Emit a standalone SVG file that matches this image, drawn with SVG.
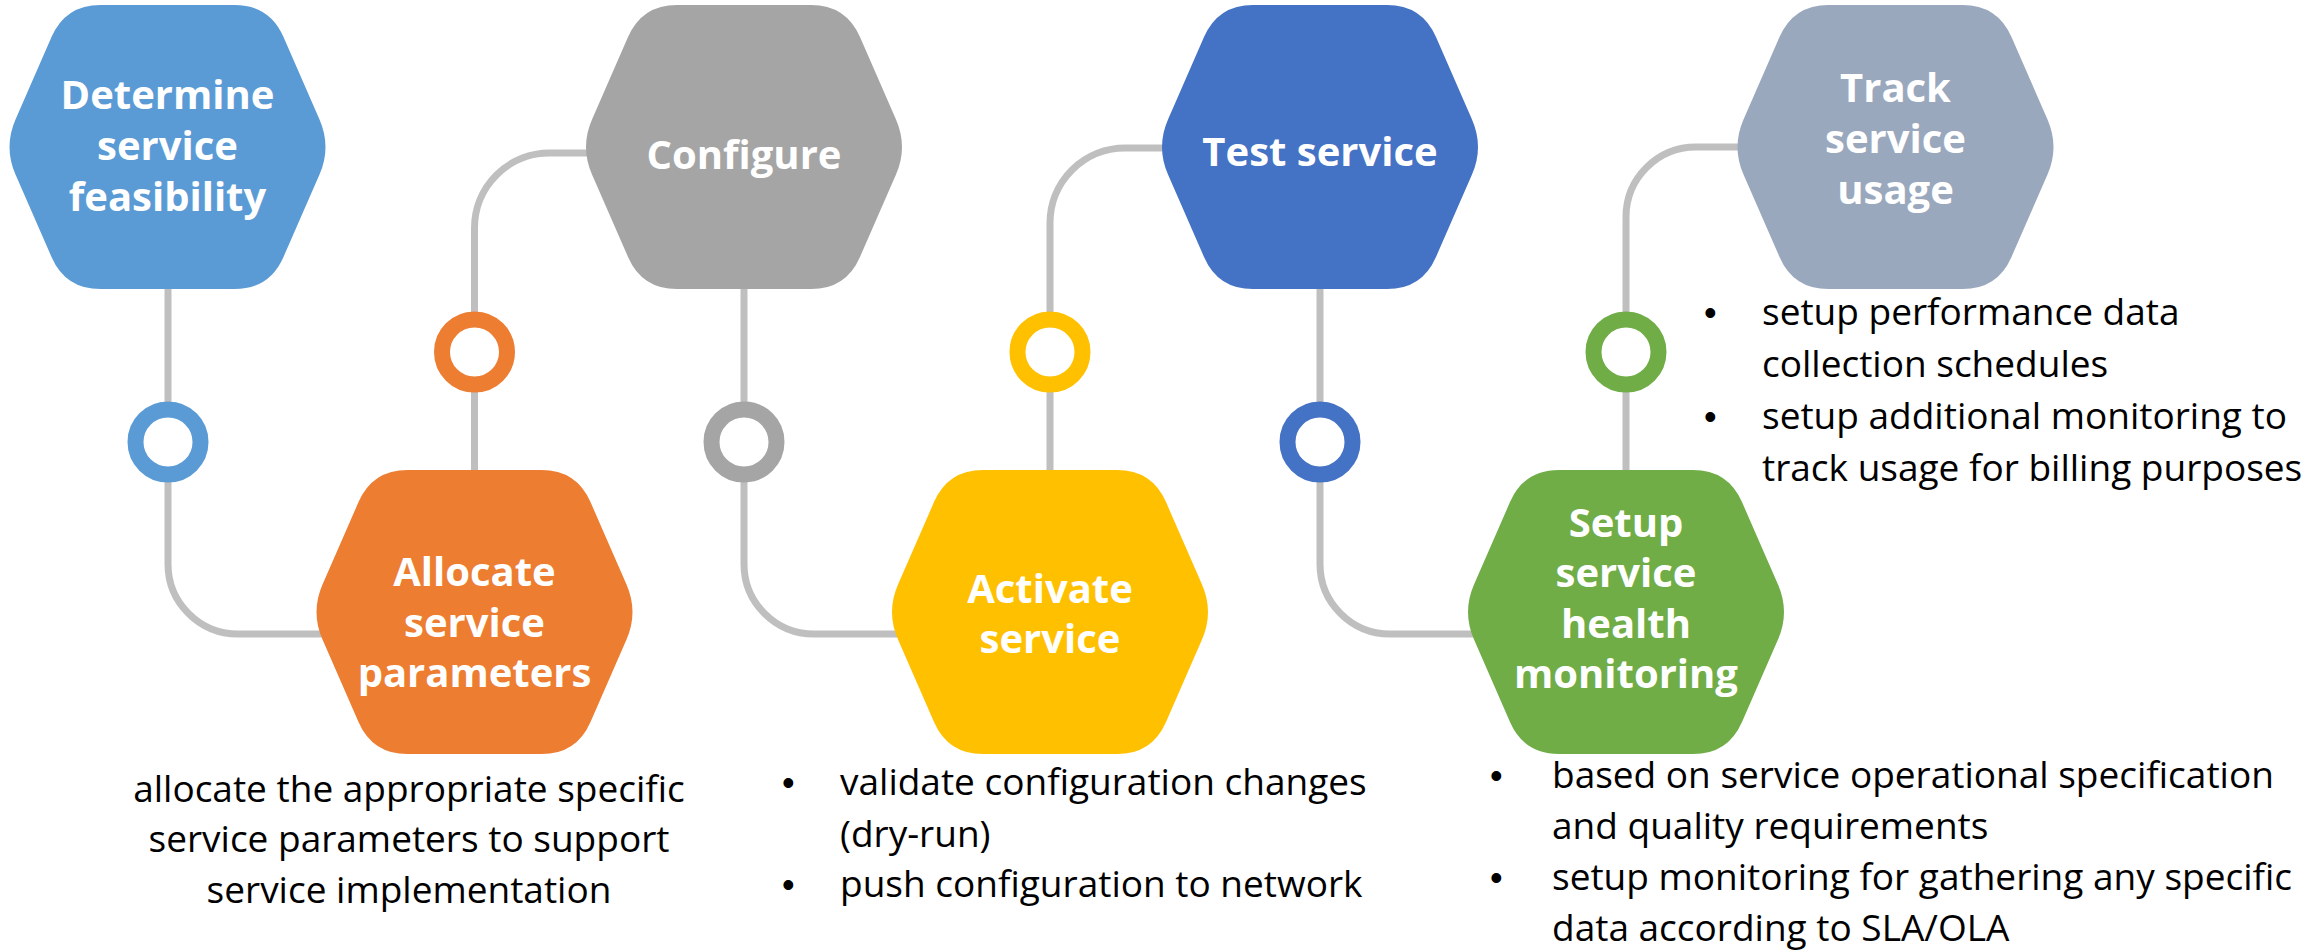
<svg xmlns="http://www.w3.org/2000/svg" xmlns:xlink="http://www.w3.org/1999/xlink" width="2304" height="952" viewBox="0 0 2304 952">
<style>
.conn{fill:none;stroke:#BFBFBF;stroke-width:7}
.ring{fill:#FFFFFF;stroke-width:16}
.lbl{font-family:"Open Sans","Noto Sans",sans-serif;font-weight:bold;font-size:40px;fill:#FFFFFF;text-anchor:middle}
.body{font-family:"Open Sans","Noto Sans",sans-serif;font-size:37px;fill:#000000}
.bul{font-family:"Liberation Sans",Arial,sans-serif;font-size:36px;fill:#000000}
</style>
<defs>
<path id="hex" d="M -67,-142 L 67,-142 Q 102,-142 116,-109.9 L 152,-27.5 Q 164,0 152,27.5 L 116,109.9 Q 102,142 67,142 L -67,142 Q -102,142 -116,109.9 L -152,27.5 Q -164,0 -152,-27.5 L -116,-109.9 Q -102,-142 -67,-142 Z"/>
</defs>
<rect width="2304" height="952" fill="#FFFFFF"/>
<g id="connectors">
<path class="conn" d="M168,289 V564 A70,70 0 0 0 238,634 H400"/>
<path class="conn" d="M474.5,470 V228 A75,75 0 0 1 549.5,153 H650"/>
<path class="conn" d="M744,289 V564 A70,70 0 0 0 814,634 H980"/>
<path class="conn" d="M1050,470 V223 A75,75 0 0 1 1125,148 H1230"/>
<path class="conn" d="M1320,289 V564 A70,70 0 0 0 1390,634 H1550"/>
<path class="conn" d="M1626,470 V217 A70,70 0 0 1 1696,147 H1800"/>
<circle class="ring" cx="168" cy="442" r="32.5" stroke="#5B9BD5"/>
<circle class="ring" cx="474.5" cy="352" r="32.5" stroke="#ED7D31"/>
<circle class="ring" cx="744" cy="442" r="32.5" stroke="#A5A5A5"/>
<circle class="ring" cx="1050" cy="352" r="32.5" stroke="#FFC000"/>
<circle class="ring" cx="1320" cy="442" r="32.5" stroke="#4472C4"/>
<circle class="ring" cx="1626" cy="352" r="32.5" stroke="#70AD47"/>
</g>
<g id="node-determine">
<use xlink:href="#hex" transform="translate(167.5,147)" fill="#5B9BD5"/>
<text class="lbl" x="167.5" y="109">Determine</text>
<text class="lbl" x="167.5" y="160">service</text>
<text class="lbl" x="167.5" y="211">feasibility</text>
</g>
<g id="node-configure">
<use xlink:href="#hex" transform="translate(744,147)" fill="#A5A5A5"/>
<text class="lbl" x="744" y="169">Configure</text>
</g>
<g id="node-test">
<use xlink:href="#hex" transform="translate(1320,147)" fill="#4472C4"/>
<text class="lbl" x="1320" y="166">Test service</text>
</g>
<g id="node-track">
<use xlink:href="#hex" transform="translate(1895.5,147)" fill="#9AA8BE"/>
<text class="lbl" x="1895.5" y="102">Track</text>
<text class="lbl" x="1895.5" y="153">service</text>
<text class="lbl" x="1895.5" y="204">usage</text>
<text class="bul" x="1704" y="325">•</text>
<text class="body" x="1762" y="325">setup performance data</text>
<text class="body" x="1762" y="377">collection schedules</text>
<text class="bul" x="1704" y="429">•</text>
<text class="body" x="1762" y="429">setup additional monitoring to</text>
<text class="body" x="1762" y="481">track usage for billing purposes</text>
</g>
<g id="node-allocate">
<use xlink:href="#hex" transform="translate(474.5,612)" fill="#ED7D31"/>
<text class="lbl" x="474.5" y="586">Allocate</text>
<text class="lbl" x="474.5" y="637">service</text>
<text class="lbl" x="474.5" y="687">parameters</text>
<text class="body" x="409" y="802" text-anchor="middle">allocate the appropriate specific</text>
<text class="body" x="409" y="852" text-anchor="middle">service parameters to support</text>
<text class="body" x="409" y="903" text-anchor="middle">service implementation</text>
</g>
<g id="node-activate">
<use xlink:href="#hex" transform="translate(1050,612)" fill="#FFC000"/>
<text class="lbl" x="1050" y="603">Activate</text>
<text class="lbl" x="1050" y="653">service</text>
<text class="bul" x="782" y="795">•</text>
<text class="body" x="840" y="795">validate configuration changes</text>
<text class="body" x="840" y="847">(dry-run)</text>
<text class="bul" x="782" y="897">•</text>
<text class="body" x="840" y="897">push configuration to network</text>
</g>
<g id="node-setup">
<use xlink:href="#hex" transform="translate(1626,612)" fill="#70AD47"/>
<text class="lbl" x="1626" y="537">Setup</text>
<text class="lbl" x="1626" y="587">service</text>
<text class="lbl" x="1626" y="638">health</text>
<text class="lbl" x="1626" y="688">monitoring</text>
<text class="bul" x="1490" y="788">•</text>
<text class="body" x="1552" y="788">based on service operational specification</text>
<text class="body" x="1552" y="839">and quality requirements</text>
<text class="bul" x="1490" y="890">•</text>
<text class="body" x="1552" y="890">setup monitoring for gathering any specific</text>
<text class="body" x="1552" y="941">data according to SLA/OLA</text>
</g>
</svg>
